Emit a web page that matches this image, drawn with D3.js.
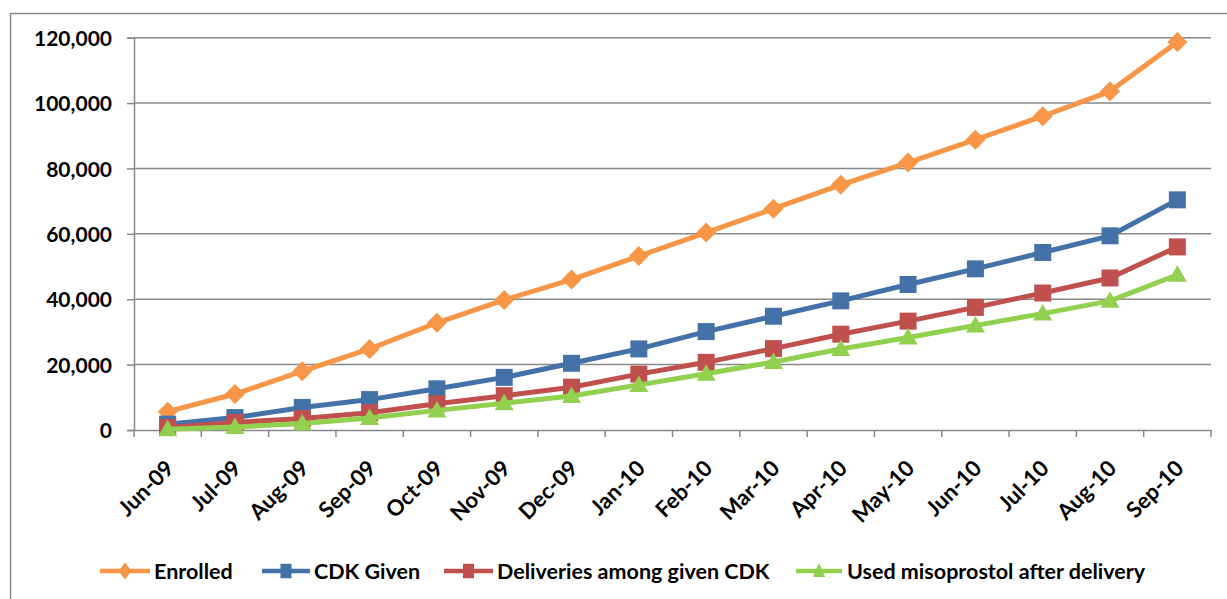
<!DOCTYPE html>
<html>
<head>
<meta charset="utf-8">
<script src="https://cdn.jsdelivr.net/npm/d3@7"></script>
<style>
  html, body { margin: 0; padding: 0; background: #fff; }
  svg { display: block; }
  text { font-family: Lato, "Open Sans", sans-serif; font-weight: bold; fill: #000; }
</style>
</head>
<body>
<svg id="chart" width="1227" height="599"></svg>
<script>
const months = ["Jun-09","Jul-09","Aug-09","Sep-09","Oct-09","Nov-09","Dec-09","Jan-10","Feb-10","Mar-10","Apr-10","May-10","Jun-10","Jul-10","Aug-10","Sep-10"];
const enrolled   = [5600, 11000, 18000, 24800, 32800, 39800, 46000, 53200, 60400, 67700, 75000, 81800, 88800, 96000, 103600, 118700];
const cdkGiven   = [1800, 3800, 6900, 9300, 12600, 16100, 20400, 24800, 30100, 34800, 39500, 44500, 49300, 54300, 59400, 70400];
const deliveries = [800, 2300, 3500, 5300, 8000, 10500, 13100, 17100, 20700, 24900, 29300, 33300, 37500, 41900, 46500, 56000];
const usedMiso   = [200, 900, 2000, 3700, 6000, 8200, 10400, 13800, 17200, 20800, 24800, 28300, 32000, 35600, 39500, 47500];
const yTicks = [0, 20000, 40000, 60000, 80000, 100000, 120000];
const seriesNames = ["Enrolled", "CDK Given", "Deliveries among given CDK", "Used misoprostol after delivery"];

const series = [
  {name: seriesNames[0], values: enrolled,   color: "#F79646", shape: "diamond"},
  {name: seriesNames[1], values: cdkGiven,   color: "#4472A8", shape: "square"},
  {name: seriesNames[2], values: deliveries, color: "#C0504D", shape: "square"},
  {name: seriesNames[3], values: usedMiso,   color: "#92D050", shape: "triangle"}
];

const svg = d3.select("#chart");
const gridColor = "#888888";

// chart frame
svg.append("path")
  .attr("d", "M10.5,599 L10.5,13.5 L1227,13.5")
  .attr("fill", "none").attr("stroke", gridColor).attr("stroke-width", 1.5);

const plotLeft = 134, plotRight = 1211, plotTop = 37.7, plotBottom = 430;
const x = d3.scaleBand().domain(months).range([plotLeft, plotRight]).padding(0);
const y = d3.scaleLinear().domain([0, 120000]).range([plotBottom, plotTop]);

// gridlines
svg.append("g").selectAll("line").data(yTicks.filter(d => d > 0)).join("line")
  .attr("x1", plotLeft).attr("x2", plotRight)
  .attr("y1", d => y(d)).attr("y2", d => y(d))
  .attr("stroke", gridColor).attr("stroke-width", 1.5);

// y axis
const yAxis = svg.append("g").attr("transform", `translate(${plotLeft},0)`)
  .call(d3.axisLeft(y).tickValues(yTicks).tickFormat(d3.format(",")).tickSize(7).tickPadding(15));
yAxis.select(".domain").attr("stroke", gridColor).attr("stroke-width", 1.5);
yAxis.selectAll(".tick line").attr("stroke", gridColor).attr("stroke-width", 1.5);
yAxis.selectAll("text").style("font-size", "21px").attr("dy", "0.36em");

// x axis
const xAxis = svg.append("g").attr("transform", `translate(0,${plotBottom})`)
  .call(d3.axisBottom(x).tickSize(0).tickFormat(""));
xAxis.select(".domain").attr("stroke", gridColor).attr("stroke-width", 1.5);
// boundary ticks
const boundaries = months.map(m => x(m)).concat([plotRight]);
svg.append("g").selectAll("line").data(boundaries).join("line")
  .attr("x1", d => d).attr("x2", d => d)
  .attr("y1", plotBottom).attr("y2", plotBottom + 7)
  .attr("stroke", gridColor).attr("stroke-width", 1.5);
// x labels
svg.append("g").selectAll("text").data(months).join("text")
  .attr("transform", d => `translate(${x(d) + x.bandwidth()/2 - 4},${plotBottom + 28}) rotate(-45)`)
  .attr("text-anchor", "end")
  .attr("dy", "0.75em")
  .style("font-size", "22px")
  .text(d => d);

const cx = i => x(months[i]) + x.bandwidth()/2;

function markerPath(shape) {
  if (shape === "diamond") return "M0,-10 L10,0 L0,10 L-10,0 Z";
  if (shape === "square") return "M-8.5,-8.5 H8.5 V8.5 H-8.5 Z";
  return "M0,-9.5 L9.5,7 L-9.5,7 Z";
}

const line = d3.line().x((d, i) => cx(i)).y(d => y(d));

series.forEach(s => {
  const g = svg.append("g");
  g.append("path").datum(s.values)
    .attr("d", line).attr("fill", "none")
    .attr("stroke", s.color).attr("stroke-width", 5).attr("stroke-linejoin", "round");
  g.selectAll("path.m").data(s.values).join("path").attr("class", "m")
    .attr("transform", (d, i) => `translate(${cx(i)},${y(d)})`)
    .attr("d", markerPath(s.shape))
    .attr("fill", s.color);
});

// legend
const legendItems = [
  {x0: 100, x1: 150, tx: 154},
  {x0: 262, x1: 310, tx: 314},
  {x0: 444, x1: 493, tx: 497},
  {x0: 796, x1: 842, tx: 847}
];
const ly = 571;
series.forEach((s, i) => {
  const it = legendItems[i];
  const g = svg.append("g");
  g.append("line").attr("x1", it.x0).attr("x2", it.x1).attr("y1", ly).attr("y2", ly)
    .attr("stroke", s.color).attr("stroke-width", 4.5);
  g.append("path").attr("transform", `translate(${(it.x0 + it.x1)/2},${ly}) scale(0.65,0.85)`)
    .attr("d", markerPath(s.shape)).attr("fill", s.color);
  g.append("text").attr("x", it.tx).attr("y", ly).attr("dy", "0.36em")
    .style("font-size", "21.5px").text(s.name);
});
</script>
</body>
</html>
